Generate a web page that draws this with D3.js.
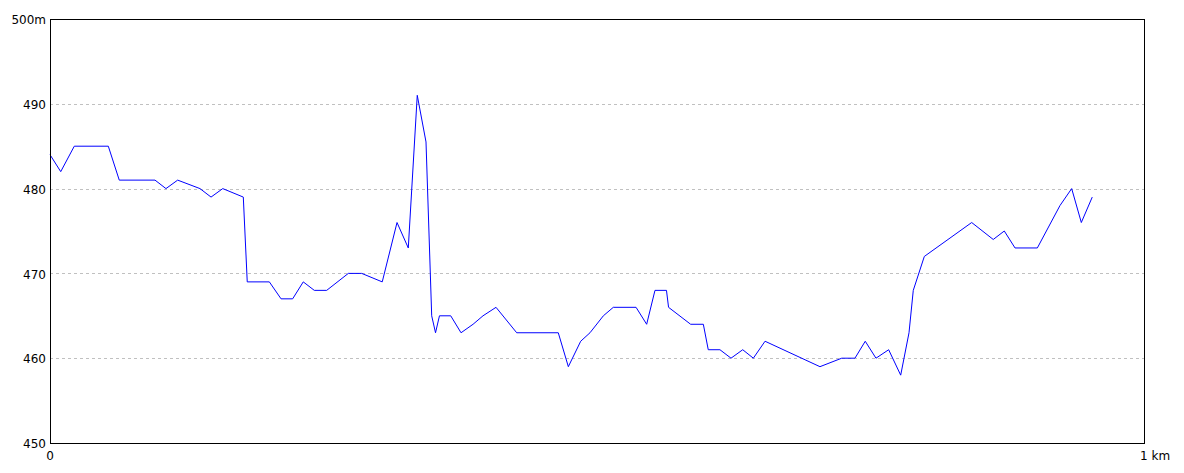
<!DOCTYPE html>
<html>
<head>
<meta charset="utf-8">
<script src="https://cdn.jsdelivr.net/npm/d3@7"></script>
<style>
  html, body { margin: 0; padding: 0; background: #fff; }
  svg { display: block; }
  text { font-family: "DejaVu Sans", sans-serif; font-size: 12px; fill: #000; }
</style>
</head>
<body>
<svg id="chart" width="1184" height="473"></svg>
<script>
// Distance along the track (km)
const distanceKm = [
  0, 0.0098, 0.0222, 0.0533, 0.0633, 0.0960, 0.1060, 0.1167, 0.1371, 0.1472,
  0.1579, 0.1767, 0.1803, 0.2005, 0.2112, 0.2218, 0.2315, 0.2416, 0.2529, 0.2727,
  0.2849, 0.3037, 0.3172, 0.3275, 0.3357, 0.3437, 0.3489, 0.3524, 0.3560, 0.3663,
  0.3757, 0.3867, 0.3958, 0.4077, 0.4266, 0.4646, 0.4738, 0.4851, 0.4936, 0.5058,
  0.5149, 0.5357, 0.5454, 0.5530, 0.5635, 0.5654, 0.5856, 0.5972, 0.6017, 0.6124,
  0.6225, 0.6332, 0.6429, 0.6536, 0.7038, 0.7237, 0.7358, 0.7452, 0.7550, 0.7666,
  0.7776, 0.7852, 0.7891, 0.7992, 0.8425, 0.8622, 0.8723, 0.8821, 0.9025, 0.9232,
  0.9339, 0.9427, 0.9527
];
// Elevation (m)
const elevationM = [
  484, 482, 485, 485, 481, 481, 480, 481, 480, 479,
  480, 479, 469, 469, 467, 467, 469, 468, 468, 470,
  470, 469, 476, 473, 491, 485.5, 465, 463, 465, 465,
  463, 464, 465, 466, 463, 463, 459, 462, 463, 465,
  466, 466, 464, 468, 468, 466, 464, 464, 461, 461,
  460, 461, 460, 462, 459, 460, 460, 462, 460, 461,
  458, 463, 468, 472, 476, 474, 475, 473, 473, 478,
  480, 476, 479
];
const yTickValues = [450, 460, 470, 480, 490, 500];
const yTickLabels = ["450", "460", "470", "480", "490", "500m"];
const xTickValues = [0, 1];
const xTickLabels = ["0", "1 km"];

const svg = d3.select("#chart");
const plotL = 50, plotR = 1144, plotT = 19, plotB = 443;

const x = d3.scaleLinear().domain([0, 1]).range([plotL, plotR]);
const y = d3.scaleLinear().domain([450, 500]).range([plotB, plotT]);

// Grid lines
svg.append("g")
  .selectAll("line")
  .data(yTickValues.filter(v => v > 450 && v < 500))
  .join("line")
  .attr("x1", plotL).attr("x2", plotR)
  .attr("y1", d => Math.round(y(d)) + 0.5).attr("y2", d => Math.round(y(d)) + 0.5)
  .attr("stroke", "#c0c0c0")
  .attr("stroke-dasharray", "3,3")
  .attr("shape-rendering", "crispEdges");

// Elevation line
const pts = distanceKm.map((d, i) => [d, elevationM[i]]);
svg.append("path")
  .datum(pts)
  .attr("fill", "none")
  .attr("stroke", "#0000ff")
  .attr("stroke-width", 1)
  .attr("d", d3.line().x(d => x(d[0])).y(d => y(d[1])));

// Frame
svg.append("rect")
  .attr("x", plotL + 0.5).attr("y", plotT + 0.5)
  .attr("width", plotR - plotL).attr("height", plotB - plotT)
  .attr("fill", "none").attr("stroke", "#000")
  .attr("shape-rendering", "crispEdges");

// Y labels
svg.append("g")
  .selectAll("text")
  .data(yTickValues)
  .join("text")
  .attr("x", plotL - 4)
  .attr("y", d => y(d) + 1)
  .attr("dy", "0.35em")
  .attr("text-anchor", "end")
  .text((d, i) => yTickLabels[i]);

// X labels
svg.append("g")
  .selectAll("text")
  .data(xTickValues)
  .join("text")
  .attr("x", d => d === 0 ? x(d) : x(d) - 4)
  .attr("y", 460)
  .attr("text-anchor", d => d === 0 ? "middle" : "start")
  .text((d, i) => xTickLabels[i]);
</script>
</body>
</html>
